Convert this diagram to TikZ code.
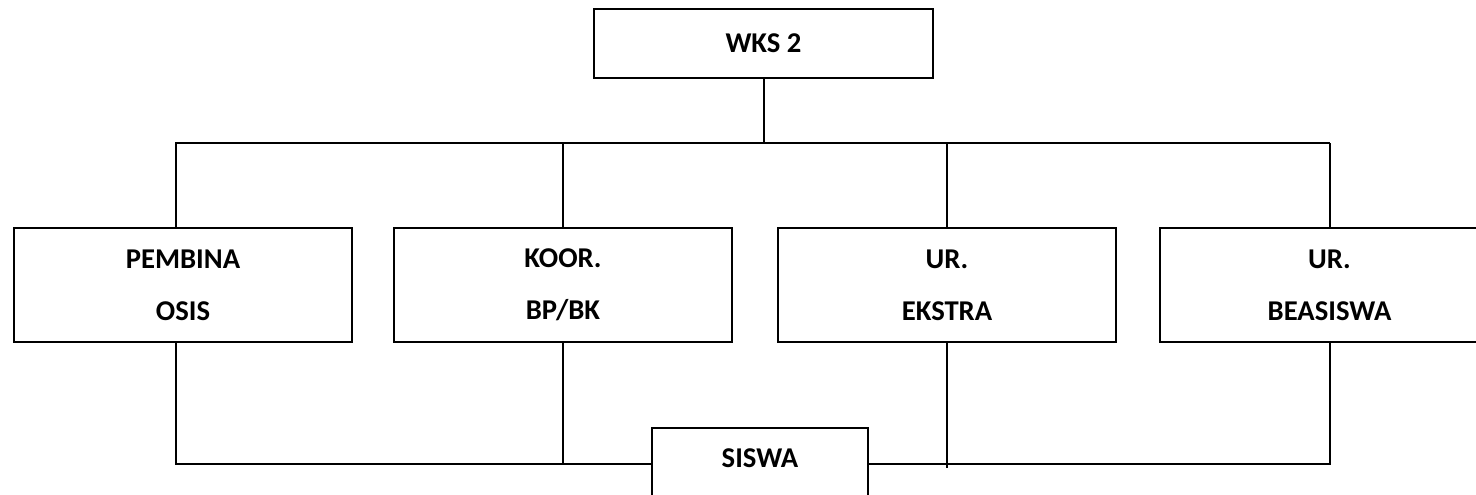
\documentclass[tikz,border=0pt]{standalone}
\usepackage{fontspec}
\setmainfont{Carlito}

\tikzset{
  unit/.style={draw, line width=1.5pt, minimum width=254pt, minimum height=85.5pt,
    align=center, font=\bfseries\fontsize{21.5}{39}\selectfont},
  link/.style={line width=1.5pt}
}

\begin{document}
\begin{tikzpicture}[x=0.75pt, y=-0.75pt]
\useasboundingbox (0,0) rectangle (1476,495);
% top
\node[unit, minimum height=51.75pt] (wks) at (763.5,43.5) {WKS 2};
% second row
\node[unit] (pembina) at (183,285) {PEMBINA\\OSIS};
\node[unit] (koor) at (563,285) {KOOR.\\BP/BK};
\node[unit] (ekstra) at (947,285) {UR.\\EKSTRA};
\node[unit] (beasiswa) at (1329.5,285) {UR.\\BEASISWA};
% bottom
\node[unit, minimum width=162pt, minimum height=0pt, inner ysep=0pt,
  text height=29.25pt, text depth=28.5pt, anchor=base] (siswa) at (760,467) {SISWA};

\coordinate (bus) at (763,143);
\draw[link] (wks.south) -- (wks.south |- bus);
\draw[link] ([xshift=-5.25pt]pembina.north) |- (beasiswa.north |- bus);
\foreach \n in {koor,ekstra,beasiswa}
\draw[link] (\n.north) -- (\n.north |- bus);

\draw[link] ([xshift=-5.25pt]pembina.south) |- (siswa.mid west);
\draw[link] (koor.south) -- (koor.south |- siswa.mid west);
\draw[link] (siswa.mid east) -| (beasiswa.south);
\draw[link, shorten >=-3pt] (ekstra.south) -- (ekstra.south |- siswa.mid east);
\end{tikzpicture}
\end{document}
